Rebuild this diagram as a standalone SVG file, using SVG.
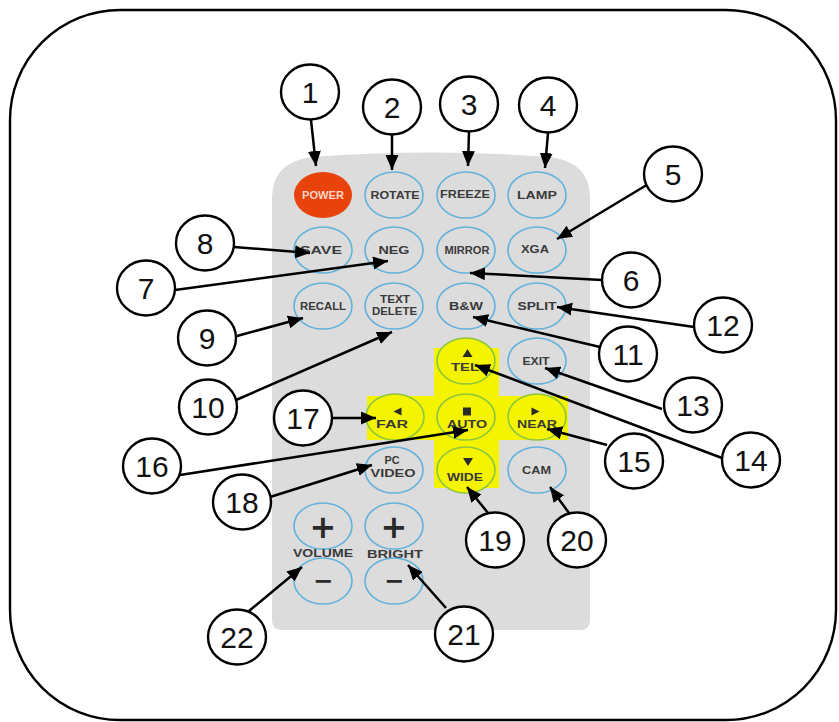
<svg xmlns="http://www.w3.org/2000/svg" width="839" height="722" viewBox="0 0 839 722">
<style>
.frame{fill:none;stroke:#000;stroke-width:2.4}
.body{fill:#dcdcdc}
.btn{fill:#dcdcdc;stroke:#62b2dc;stroke-width:1.6}
.ybtn{fill:#f4f400;stroke:#8cc63f;stroke-width:1.6}
.bt{font-family:"Liberation Sans",Arial,sans-serif;font-weight:bold;font-size:11.5px;fill:#3a3a3a;text-anchor:middle}
.sm{font-size:10.5px}
.sym{fill:#2a2a2a}
.big{font-family:"DejaVu Sans",sans-serif;font-weight:bold;fill:#2a2a2a;text-anchor:middle}
.co{fill:#fff;stroke:#000;stroke-width:2.4}
.num{font-family:"Liberation Sans",Arial,sans-serif;font-size:30px;fill:#111;text-anchor:middle}
.ln{stroke:#000;stroke-width:2.5;fill:none;marker-end:url(#ah)}
</style>
<defs>
<marker id="ah" markerUnits="userSpaceOnUse" markerWidth="16" markerHeight="14" refX="15" refY="6.5" orient="auto">
<path d="M0,0 L15,6.5 L0,13 z" fill="#000"/>
</marker>
</defs>
<rect width="839" height="722" fill="#fff"/>
<rect class="frame" x="10" y="10" width="826" height="710" rx="110" ry="110"/>
<g id="remote">
<path class="body" d="M282,630 Q272,630 272,620 L272,198 Q272,162 312,157 Q431,148 550,157 Q590,162 590,198 L590,620 Q590,630 580,630 Z"/>
<path d="M434,348 H499 V396 H568 V440 H499 V488 H434 V440 H367 V396 H434 Z" fill="#f4f400"/>
</g>
<g id="btn-power"><ellipse cx="323" cy="195" rx="29" ry="23" fill="#e8420d"/><text class="bt" x="323" y="199" style="fill:#fbd6c6" textLength="42" lengthAdjust="spacingAndGlyphs">POWER</text></g>
<g id="btn-rotate"><ellipse class="btn" cx="394" cy="195" rx="29" ry="23"/><text class="bt" x="395" y="199" textLength="49" lengthAdjust="spacingAndGlyphs">ROTATE</text></g>
<g id="btn-freeze"><ellipse class="btn" cx="466" cy="195" rx="29" ry="23"/><text class="bt" x="465" y="198" textLength="50" lengthAdjust="spacingAndGlyphs">FREEZE</text></g>
<g id="btn-lamp"><ellipse class="btn" cx="537" cy="195" rx="29" ry="23"/><text class="bt" x="537" y="199" textLength="40" lengthAdjust="spacingAndGlyphs">LAMP</text></g>
<g id="btn-save"><ellipse class="btn" cx="323" cy="250" rx="29" ry="23"/><text class="bt" x="321" y="254" textLength="42" lengthAdjust="spacingAndGlyphs">SAVE</text></g>
<g id="btn-neg"><ellipse class="btn" cx="394" cy="250" rx="29" ry="23"/><text class="bt" x="394" y="254" textLength="31" lengthAdjust="spacingAndGlyphs">NEG</text></g>
<g id="btn-mirror"><ellipse class="btn" cx="466" cy="250" rx="29" ry="23"/><text class="bt sm" x="467" y="254" textLength="45" lengthAdjust="spacingAndGlyphs">MIRROR</text></g>
<g id="btn-xga"><ellipse class="btn" cx="537" cy="250" rx="29" ry="23"/><text class="bt" x="535" y="253" textLength="28" lengthAdjust="spacingAndGlyphs">XGA</text></g>
<g id="btn-recall"><ellipse class="btn" cx="323" cy="306" rx="29" ry="23"/><text class="bt sm" x="323" y="310" textLength="46" lengthAdjust="spacingAndGlyphs">RECALL</text></g>
<g id="btn-textdelete"><ellipse class="btn" cx="394" cy="306" rx="29" ry="23"/><text class="bt" x="395" y="303" textLength="30" lengthAdjust="spacingAndGlyphs">TEXT</text><text class="bt" x="394.5" y="315" textLength="45" lengthAdjust="spacingAndGlyphs">DELETE</text></g>
<g id="btn-bw"><ellipse class="btn" cx="466" cy="306" rx="29" ry="23"/><text class="bt" x="466" y="310" textLength="34" lengthAdjust="spacingAndGlyphs">B&amp;W</text></g>
<g id="btn-split"><ellipse class="btn" cx="537" cy="306" rx="29" ry="23"/><text class="bt" x="537" y="310" textLength="39" lengthAdjust="spacingAndGlyphs">SPLIT</text></g>
<g id="btn-tel"><ellipse class="ybtn" cx="466" cy="361" rx="29" ry="23"/><polygon class="sym" points="462.5,357 467.5,349 472.5,357"/><text class="bt" x="465" y="371" textLength="28" lengthAdjust="spacingAndGlyphs">TEL</text></g>
<g id="btn-exit"><ellipse class="btn" cx="537" cy="361" rx="29" ry="23"/><text class="bt" x="536" y="365" textLength="27" lengthAdjust="spacingAndGlyphs">EXIT</text></g>
<g id="btn-far"><ellipse class="ybtn" cx="395" cy="417" rx="29" ry="23"/><polygon class="sym" points="393.5,411.5 401.5,407.5 401.5,415.5"/><text class="bt" x="392" y="428" textLength="32" lengthAdjust="spacingAndGlyphs">FAR</text></g>
<g id="btn-auto"><ellipse class="ybtn" cx="466" cy="417" rx="29" ry="23"/><rect class="sym" x="463" y="407.5" width="8" height="8"/><text class="bt" x="467" y="428" textLength="40" lengthAdjust="spacingAndGlyphs">AUTO</text></g>
<g id="btn-near"><ellipse class="ybtn" cx="537" cy="417" rx="29" ry="23"/><polygon class="sym" points="531.5,407.5 539.5,411.5 531.5,415.5"/><text class="bt" x="537" y="428" textLength="40" lengthAdjust="spacingAndGlyphs">NEAR</text></g>
<g id="btn-pcvideo"><ellipse class="btn" cx="394" cy="470" rx="29" ry="23"/><text class="bt" x="392" y="464" textLength="15" lengthAdjust="spacingAndGlyphs">PC</text><text class="bt" x="393" y="477" textLength="45" lengthAdjust="spacingAndGlyphs">VIDEO</text></g>
<g id="btn-wide"><ellipse class="ybtn" cx="466" cy="470" rx="29" ry="23"/><polygon class="sym" points="463,458 473,458 468,466"/><text class="bt" x="465" y="481" textLength="36" lengthAdjust="spacingAndGlyphs">WIDE</text></g>
<g id="btn-cam"><ellipse class="btn" cx="537" cy="470" rx="29" ry="23"/><text class="bt" x="536.5" y="474" textLength="29" lengthAdjust="spacingAndGlyphs">CAM</text></g>
<g id="btn-volup"><ellipse class="btn" cx="323" cy="526" rx="29" ry="23"/><text class="big" x="323" y="538" font-size="32">+</text></g>
<g id="btn-brightup"><ellipse class="btn" cx="394" cy="526" rx="29" ry="23"/><text class="big" x="394" y="538" font-size="32">+</text></g>
<g id="lbl-volume"><text class="bt sm" x="323" y="557" textLength="60" lengthAdjust="spacingAndGlyphs">VOLUME</text></g>
<g id="lbl-bright"><text class="bt sm" x="395" y="558" textLength="56" lengthAdjust="spacingAndGlyphs">BRIGHT</text></g>
<g id="btn-voldown"><ellipse class="btn" cx="323" cy="581" rx="29" ry="23"/><text class="big" x="323" y="588.5" font-size="24">−</text></g>
<g id="btn-brightdown"><ellipse class="btn" cx="394" cy="581" rx="29" ry="23"/><text class="big" x="394" y="588.5" font-size="24">−</text></g>
<g id="connectors">
<line class="ln" x1="311" y1="120" x2="316" y2="166"/>
<line class="ln" x1="392" y1="135" x2="392" y2="170"/>
<line class="ln" x1="469" y1="131" x2="468" y2="166"/>
<line class="ln" x1="548" y1="133" x2="545" y2="168"/>
<line class="ln" x1="650" y1="183" x2="557" y2="239"/>
<line class="ln" x1="602" y1="280" x2="470" y2="273"/>
<line class="ln" x1="175" y1="290" x2="388" y2="261"/>
<line class="ln" x1="234" y1="247" x2="310" y2="253"/>
<line class="ln" x1="237" y1="336" x2="303" y2="318"/>
<line class="ln" x1="236" y1="400" x2="392" y2="332"/>
<line class="ln" x1="600" y1="347" x2="473" y2="317"/>
<line class="ln" x1="694" y1="327" x2="557" y2="307"/>
<line class="ln" x1="662" y1="409" x2="545" y2="368"/>
<line class="ln" x1="722" y1="458" x2="475" y2="365"/>
<line class="ln" x1="607" y1="445" x2="547" y2="429"/>
<line class="ln" x1="180" y1="475" x2="468" y2="430"/>
<line class="ln" x1="332" y1="418" x2="376" y2="418"/>
<line class="ln" x1="270" y1="497" x2="372" y2="465"/>
<line class="ln" x1="488" y1="513" x2="467" y2="487"/>
<line class="ln" x1="569" y1="513" x2="550" y2="487"/>
<line class="ln" x1="446" y1="608" x2="408" y2="565"/>
<line class="ln" x1="249" y1="611" x2="302" y2="567"/>
</g>
<g id="c1"><ellipse class="co" cx="310" cy="92" rx="29" ry="27.5"/><text class="num" x="310" y="103">1</text></g>
<g id="c2"><ellipse class="co" cx="392" cy="107" rx="29" ry="27.5"/><text class="num" x="392" y="118">2</text></g>
<g id="c3"><ellipse class="co" cx="469" cy="104" rx="29" ry="27.5"/><text class="num" x="469" y="115">3</text></g>
<g id="c4"><ellipse class="co" cx="548" cy="105" rx="29" ry="27.5"/><text class="num" x="548" y="116">4</text></g>
<g id="c5"><ellipse class="co" cx="673" cy="174" rx="29" ry="27.5"/><text class="num" x="673" y="185">5</text></g>
<g id="c6"><ellipse class="co" cx="631" cy="280" rx="29" ry="27.5"/><text class="num" x="631" y="291">6</text></g>
<g id="c7"><ellipse class="co" cx="146" cy="288" rx="29" ry="27.5"/><text class="num" x="146" y="299">7</text></g>
<g id="c8"><ellipse class="co" cx="205" cy="243" rx="29" ry="27.5"/><text class="num" x="205" y="254">8</text></g>
<g id="c9"><ellipse class="co" cx="207" cy="338" rx="29" ry="27.5"/><text class="num" x="207" y="349">9</text></g>
<g id="c10"><ellipse class="co" cx="208" cy="407" rx="29" ry="27.5"/><text class="num" x="208" y="418">10</text></g>
<g id="c11"><ellipse class="co" cx="628" cy="354" rx="29" ry="27.5"/><text class="num" x="628" y="365">11</text></g>
<g id="c12"><ellipse class="co" cx="723" cy="325" rx="29" ry="27.5"/><text class="num" x="723" y="336">12</text></g>
<g id="c13"><ellipse class="co" cx="693" cy="405" rx="29" ry="27.5"/><text class="num" x="693" y="416">13</text></g>
<g id="c14"><ellipse class="co" cx="751" cy="460" rx="29" ry="27.5"/><text class="num" x="751" y="471">14</text></g>
<g id="c15"><ellipse class="co" cx="634" cy="461" rx="29" ry="27.5"/><text class="num" x="634" y="472">15</text></g>
<g id="c16"><ellipse class="co" cx="152" cy="466" rx="29" ry="27.5"/><text class="num" x="152" y="477">16</text></g>
<g id="c17"><ellipse class="co" cx="303" cy="418" rx="29" ry="27.5"/><text class="num" x="303" y="429">17</text></g>
<g id="c18"><ellipse class="co" cx="242" cy="502" rx="29" ry="27.5"/><text class="num" x="242" y="513">18</text></g>
<g id="c19"><ellipse class="co" cx="495" cy="540" rx="29" ry="27.5"/><text class="num" x="495" y="551">19</text></g>
<g id="c20"><ellipse class="co" cx="577" cy="540" rx="29" ry="27.5"/><text class="num" x="577" y="551">20</text></g>
<g id="c21"><ellipse class="co" cx="464" cy="634" rx="29" ry="27.5"/><text class="num" x="464" y="645">21</text></g>
<g id="c22"><ellipse class="co" cx="237" cy="637" rx="29" ry="27.5"/><text class="num" x="237" y="648">22</text></g>
</svg>
